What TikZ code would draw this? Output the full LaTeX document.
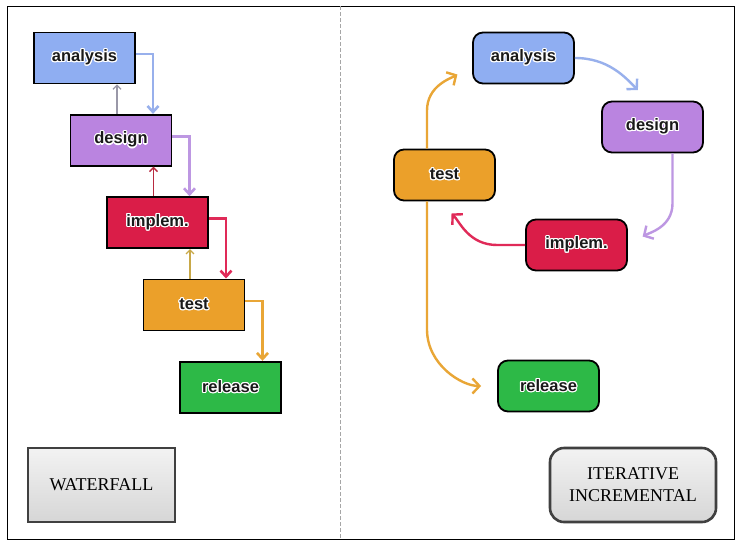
\documentclass[tikz,border=0pt]{standalone}
\usepackage{fontspec}
\usepackage[copies]{contour}
\usetikzlibrary{arrows.meta,positioning}
\newfontfamily\boxfont{Liberation Sans}
\newfontfamily\tagfont{Liberation Serif}
\contourlength{1.1pt}
\newcommand{\halo}[1]{\contour{white}{#1}}
% box fills
\definecolor{anafill}{HTML}{8FAEF2}
\definecolor{desfill}{HTML}{BA84E0}
\definecolor{impfill}{HTML}{DA1D48}
\definecolor{tstfill}{HTML}{EBA02A}
\definecolor{relfill}{HTML}{2DB947}
% connector colours
\definecolor{arrblue}{HTML}{98B0EC}
\definecolor{arrpurple}{HTML}{BD97E2}
\definecolor{arrred}{HTML}{E02A58}
\definecolor{arrorange}{HTML}{E9A636}
\definecolor{upgray}{HTML}{9A98A8}
\definecolor{upred}{HTML}{B82A40}
\definecolor{upolive}{HTML}{C8A848}

\begin{document}
\begin{tikzpicture}[
    x=1pt, y=-1pt,
    wbox/.style={
        rectangle, draw=black, line width=1.8pt,
        minimum width=101pt, minimum height=51pt, inner sep=0pt,
        font=\boxfont\bfseries\fontsize{16.5}{18}\selectfont, text=black!90
    },
    ibox/.style={wbox, rounded corners=10pt},
    tag/.style={
        rectangle, draw=black!75, line width=2.6pt,
        top color=gray!10, bottom color=gray!32,
        minimum width=147pt, minimum height=74pt,
        align=center, font=\tagfont\fontsize{18}{22}\selectfont
    },
    down/.style={-{Straight Barb[length=6pt,width=11pt]},line width=2.6pt},
    up/.style={-{Straight Barb[length=4pt,width=8pt]},line width=1.3pt},
    cycle/.style={-{Straight Barb[length=7pt,width=15pt]},line width=2.4pt}
]
\useasboundingbox (0,0) rectangle (735,541);
\fill[white] (0,0) rectangle (735,541);
\draw[line width=0.9pt] (7,6) rectangle (734,539);
\draw[gray!70, line width=0.8pt, dash pattern=on 4pt off 2pt] (340,6) -- (340,539);

% waterfall
\node[wbox, fill=anafill] (analysis) at (84.5,58) {\halo{analysis}};
\node[wbox, fill=desfill, below=29.5pt of analysis, xshift=36.5pt] (design)  {\halo{design}};
\node[wbox, fill=impfill, below=29.5pt of design,   xshift=36.5pt] (implem)  {\halo{implem.}};
\node[wbox, fill=tstfill, below=29.5pt of implem,   xshift=36.5pt] (test)    {\halo{test}};
\node[wbox, fill=relfill, below=29.5pt of test,     xshift=36.5pt] (release) {\halo{release}};

\draw[down, arrblue]   ([yshift=4pt]analysis.east) -| ([xshift=32pt]design.north);
\draw[down, arrpurple] ([yshift=4pt]design.east)   -| ([xshift=32pt]implem.north);
\draw[down, arrred]    ([yshift=4pt]implem.east)   -| ([xshift=32pt]test.north);
\draw[down, arrorange] ([yshift=4pt]test.east)     -| ([xshift=32pt]release.north);

\draw[up, upgray]  ([xshift=-4pt]design.north) -- ([xshift=-4pt]design.north |- analysis.south);
\draw[up, upred]   ([xshift=-4pt]implem.north) -- ([xshift=-4pt]implem.north |- design.south);
\draw[up, upolive] ([xshift=-4pt]test.north)   -- ([xshift=-4pt]test.north |- implem.south);

\node[tag] (waterfall) at (101.5,485) {WATERFALL};

% iterative incremental
\node[ibox, fill=anafill] (analysis) at (523.5,58)  {\halo{analysis}};
\node[ibox, fill=desfill] (design)   at (652.5,127) {\halo{design}};
\node[ibox, fill=tstfill] (test)     at (444.5,175) {\halo{test}};
\node[ibox, fill=impfill] (implem)   at (576.5,245) {\halo{implem.}};
\node[ibox, fill=relfill] (release)  at (548.5,386) {\halo{release}};

\draw[cycle, arrblue, shorten >=15pt] (analysis.east)
    to[out=0,in=135] ([xshift=-4pt]design.north);
\draw[cycle, arrpurple, shorten >=17pt] ([xshift=20pt]design.south) -- ++(0,50)
    to[out=-90,in=30] (implem.east);
\draw[cycle, arrred, shorten >=17pt] (implem.west) -- ++(-28,0)
    to[out=180,in=-45] ([xshift=-5pt]test.south);
\draw[cycle, arrorange, shorten >=17pt] ([xshift=-17.5pt]test.north) -- ++(0,-38)
    to[out=90,in=210] ([yshift=-8pt]analysis.west);
\draw[cycle, arrorange, shorten >=16pt] ([xshift=-17.5pt]test.south) -- ++(0,128)
    to[out=-90,in=180] (release.west);

\node[tag, rounded corners=14pt, minimum width=166pt] (iterative) at (633,485)
    {ITERATIVE\\INCREMENTAL};
\end{tikzpicture}
\end{document}
